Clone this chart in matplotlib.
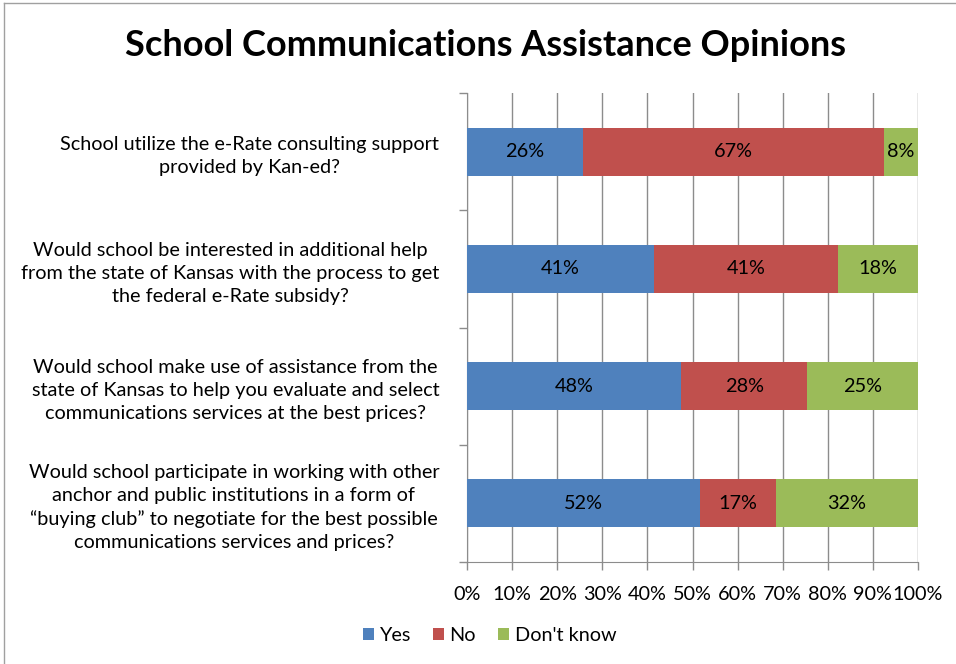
import matplotlib
matplotlib.use("Agg")
import matplotlib.pyplot as plt
from matplotlib.lines import Line2D
import numpy as np

plt.rcParams['font.family'] = ['Lato', 'DejaVu Sans']

questions = [
    "School utilize the e-Rate consulting support\nprovided by Kan-ed?",
    "Would school be interested in additional help\nfrom the state of Kansas with the process to get\nthe federal e-Rate subsidy?",
    "Would school make use of assistance from the\nstate of Kansas to help you evaluate and select\ncommunications services at the best prices?",
    "Would school participate in working with other\nanchor and public institutions in a form of\n\u201cbuying club\u201d to negotiate for the best possible\ncommunications services and prices?",
]
yes = [25.7, 41.4, 47.6, 51.7]
no = [66.8, 40.9, 28.0, 16.8]
dont_know = [7.6, 17.7, 24.6, 31.6]
series = ["Yes", "No", "Don't know"]
colors = ["#4F81BD", "#C0504D", "#9BBB59"]

fig = plt.figure(figsize=(9.56, 6.64), dpi=100)
ax = fig.add_axes([467 / 956, 1 - 562 / 664, (918 - 467) / 956, (562 - 93) / 664])

fs = 14.3
y = np.arange(len(questions))
left = np.zeros(len(questions))
total = np.array(yes) + np.array(no) + np.array(dont_know)
for name, vals, c in zip(series, [yes, no, dont_know], colors):
    vals = np.array(vals)
    w = vals / total * 100
    ax.barh(y, w, left=left, height=0.41, color=c, label=name, zorder=3)
    for yi, li, wi, v in zip(y, left, w, vals):
        ax.text(li + wi / 2, yi, "%.0f%%" % v, ha='center', va='center', fontsize=fs, zorder=4)
    left += w

ax.set_xlim(0, 100)
ax.set_ylim(len(questions) - 0.5, -0.5)
ax.set_xticks(np.arange(0, 101, 10))
ax.set_xticklabels(["%d%%" % v for v in range(0, 101, 10)], fontsize=fs)
ax.xaxis.grid(True, color="#8c8c8c", linewidth=1, zorder=0)

ax.set_yticks(y)
ax.set_yticklabels(questions, fontsize=fs, linespacing=1.42)
for lbl in ax.get_yticklabels():
    lbl.set_multialignment('center')
ax.set_yticks(np.arange(-0.5, len(questions)), minor=True)
ax.tick_params(axis='y', which='major', length=0, pad=20)
ax.tick_params(axis='y', which='minor', length=6, color="#8c8c8c", width=1)
ax.tick_params(axis='x', length=6, color="#8c8c8c", width=1, pad=11)

for s in ['top', 'right']:
    ax.spines[s].set_visible(False)
for s in ['left', 'bottom']:
    ax.spines[s].set_color("#8c8c8c")

fig.text(0.508, 0.932, "School Communications Assistance Opinions", ha='center', va='center',
         fontsize=26, fontweight='bold')

ax.legend(loc='center', bbox_to_anchor=(0.05, -0.157), ncol=3, frameon=False, fontsize=fs,
          handlelength=0.55, handleheight=0.55, handletextpad=0.3, columnspacing=1.1)

fig.add_artist(Line2D([4 / 956, 4 / 956], [0, 1 - 3 / 664], color="#a0a0a0", linewidth=1))
fig.add_artist(Line2D([4 / 956, 1], [1 - 3 / 664, 1 - 3 / 664], color="#a0a0a0", linewidth=1))

fig.savefig("out.png", dpi=100)
